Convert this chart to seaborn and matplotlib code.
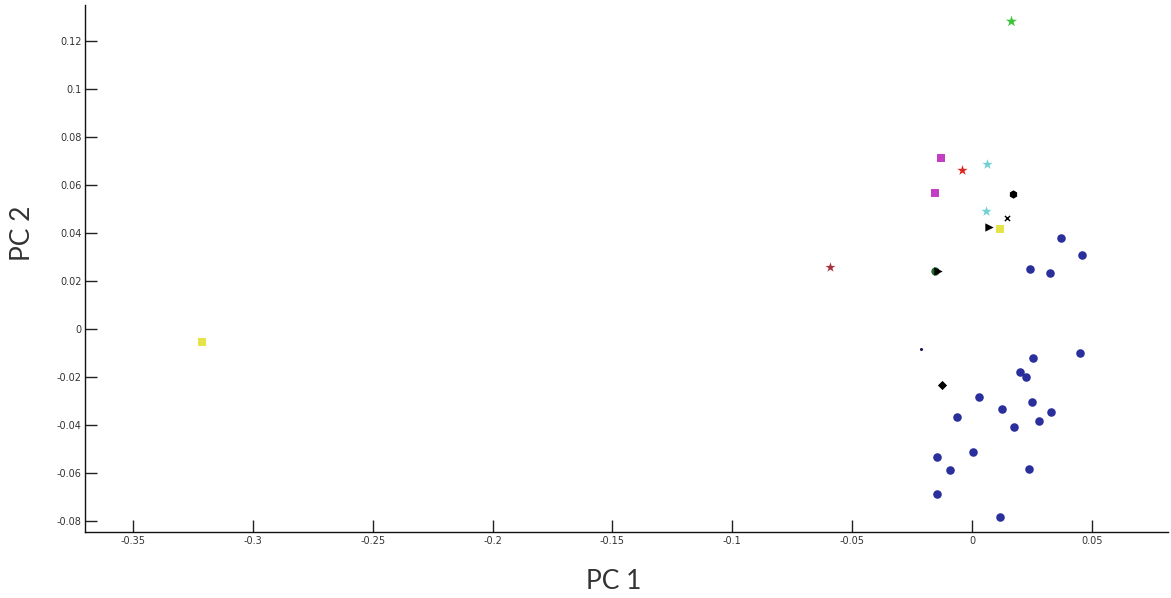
import numpy as np
import pandas as pd
import matplotlib
matplotlib.use("Agg")
import matplotlib.pyplot as plt
import seaborn as sns
from matplotlib.ticker import FuncFormatter

# Principal component scores, one list pair per sample group
blue_pc1 = [0.0370, 0.0458, 0.0242, 0.0323, 0.0451, 0.0256, 0.0200, 0.0224, 0.0029,
            0.0249, 0.0125, 0.0330, -0.0063, 0.0278, 0.0175, 0.0003, -0.0147,
            -0.0091, 0.0238, -0.0147, 0.0118]
blue_pc2 = [0.0381, 0.0308, 0.0250, 0.0232, -0.0101, -0.0122, -0.0179, -0.0199, -0.0285,
            -0.0303, -0.0333, -0.0347, -0.0368, -0.0384, -0.0410, -0.0511, -0.0535,
            -0.0587, -0.0584, -0.0686, -0.0785]
yellow_pc1 = [-0.3214, 0.0117]
yellow_pc2 = [-0.0055, 0.0418]
green_pc1 = [0.0162]
green_pc2 = [0.1285]
magenta_pc1 = [-0.0131, -0.0153]
magenta_pc2 = [0.0713, 0.0567]
red_pc1 = [-0.0040]
red_pc2 = [0.0662]
darkred_pc1 = [-0.0593]
darkred_pc2 = [0.0260]
cyan_pc1 = [0.0064, 0.0056]
cyan_pc2 = [0.0687, 0.0493]
black_dot_pc1 = [0.0170]
black_dot_pc2 = [0.0561]
black_x_pc1 = [0.0145]
black_x_pc2 = [0.0464]
black_tri_pc1 = [0.0072, -0.0141]
black_tri_pc2 = [0.0427, 0.0243]
darkgreen_pc1 = [-0.0154]
darkgreen_pc2 = [0.0243]
black_dia_pc1 = [-0.0126]
black_dia_pc2 = [-0.0234]
navy_dot_pc1 = [-0.0213]
navy_dot_pc2 = [-0.0084]

x_ticks = [-0.35, -0.3, -0.25, -0.2, -0.15, -0.1, -0.05, 0, 0.05]
y_ticks = [-0.08, -0.06, -0.04, -0.02, 0, 0.02, 0.04, 0.06, 0.08, 0.1, 0.12]

groups = [
    # pc1, pc2, colour, marker, size, edge width
    (blue_pc1, blue_pc2, "#2a2f9c", "o", 38, 0),
    (yellow_pc1, yellow_pc2, "#e4e44a", "s", 40, 0),
    (green_pc1, green_pc2, "#3cc43c", "*", 70, 0),
    (magenta_pc1, magenta_pc2, "#c23ec2", "s", 40, 0),
    (red_pc1, red_pc2, "#e02424", "*", 60, 0),
    (darkred_pc1, darkred_pc2, "#a8303c", "*", 55, 0),
    (cyan_pc1, cyan_pc2, "#6fd0d6", "*", 60, 0),
    (darkgreen_pc1, darkgreen_pc2, "#1e6a2a", "o", 36, 0),
    (black_dot_pc1, black_dot_pc2, "#000000", "h", 36, 0),
    (black_x_pc1, black_x_pc2, "#000000", "x", 14, 1.0),
    (black_tri_pc1, black_tri_pc2, "#000000", ">", 36, 0),
    (black_dia_pc1, black_dia_pc2, "#000000", "D", 22, 0),
    (navy_dot_pc1, navy_dot_pc2, "#1a1a60", "o", 5, 0),
]

sns.set_style("ticks")
plt.rcParams["font.family"] = ["DejaVu Sans"]

fig = plt.figure(figsize=(11.71, 5.98), dpi=100)
ax = fig.add_axes([0.0726, 0.1104, 0.9250, 0.8812])

for xs, ys, col, mk, sz, lw in groups:
    sns.scatterplot(x=xs, y=ys, color=col, marker=mk, s=sz, linewidth=lw,
                    legend=False, ax=ax, zorder=3)

ax.set_xlim(-0.370, 0.0818)
ax.set_ylim(-0.0846, 0.135)
ax.set_xticks(x_ticks)
ax.set_yticks(y_ticks)
fmt = FuncFormatter(lambda v, p: "0" if abs(v) < 1e-12 else f"{v:g}")
ax.xaxis.set_major_formatter(fmt)
ax.yaxis.set_major_formatter(fmt)
ax.tick_params(direction="in", length=8.5, width=1.0, labelsize=7, colors="#222222",
               labelcolor="#333333")
ax.tick_params(axis="y", pad=2.5)
ax.tick_params(axis="x", pad=3)

sns.despine(ax=ax)
for s in ("left", "bottom"):
    ax.spines[s].set_linewidth(1.0)
    ax.spines[s].set_color("#111111")

ax.set_xlabel("PC 1", fontsize=19, family="Lato", color="#333333")
ax.set_ylabel("PC 2", fontsize=19, family="Lato", color="#333333")
ax.xaxis.set_label_coords(0.488, -0.070)
ax.yaxis.set_label_coords(-0.046, 0.566)

fig.savefig("out.png", dpi=100)
